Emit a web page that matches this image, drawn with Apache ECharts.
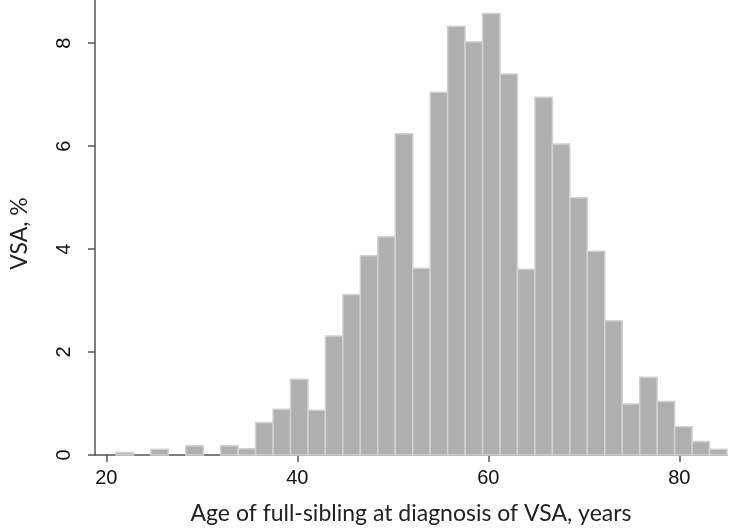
<!DOCTYPE html>
<html>
<head>
<meta charset="utf-8">
<script src="https://cdn.jsdelivr.net/npm/echarts@6/dist/echarts.min.js"></script>
<style>html,body{margin:0;padding:0;background:#fff}#c{width:740px;height:530px}</style>
</head>
<body>
<div id="c"></div>
<script>
// Histogram bin edges (years)
var binEdges = [21.000, 22.829, 24.657, 26.486, 28.314, 30.143, 31.971, 33.800, 35.629, 37.457,
  39.286, 41.114, 42.943, 44.771, 46.600, 48.429, 50.257, 52.086, 53.914, 55.743,
  57.571, 59.400, 61.229, 63.057, 64.886, 66.714, 68.543, 70.371, 72.200, 74.029,
  75.857, 77.686, 79.514, 81.343, 83.171, 85.000];
// Percent of VSA in each bin
var percents = [0.05, 0, 0.11, 0, 0.18, 0, 0.18, 0.12, 0.63, 0.89,
  1.47, 0.87, 2.31, 3.12, 3.87, 4.24, 6.24, 3.63, 7.05, 8.33,
  8.03, 8.58, 7.40, 3.61, 6.95, 6.04, 5.00, 3.96, 2.61, 0.99,
  1.51, 1.04, 0.55, 0.26, 0.11];
var xTicks = [20, 40, 60, 80];
var yTicks = [0, 2, 4, 6, 8];
var xTitle = 'Age of full-sibling at diagnosis of VSA, years';
var yTitle = 'VSA, %';

var histData = percents.map(function (v, i) { return [binEdges[i], binEdges[i + 1], v]; });

var chart = echarts.init(document.getElementById('c'), null, { renderer: 'canvas' });
var axisColor = '#555555';
chart.setOption({
  animation: false,
  grid: { left: 74, right: 13, top: 0, bottom: 74 },
  xAxis: {
    type: 'value', min: 18.81, max: 85.0,
    splitLine: { show: false },
    axisLine: { show: true, lineStyle: { color: axisColor, width: 1.5 } },
    axisTick: { show: true, customValues: xTicks, length: 7, lineStyle: { color: axisColor, width: 1.5 } },
    axisLabel: { customValues: xTicks, margin: 13, fontFamily: 'Liberation Sans', fontSize: 20, color: '#111' },
    name: xTitle, nameLocation: 'middle', nameGap: 47,
    nameTextStyle: { fontFamily: 'Lato', fontSize: 23, color: '#222' }
  },
  yAxis: {
    type: 'value', min: 0, max: 8.84,
    splitLine: { show: false },
    axisLine: { show: true, lineStyle: { color: axisColor, width: 1.5 } },
    axisTick: { show: true, customValues: yTicks, length: 7, lineStyle: { color: axisColor, width: 1.5 } },
    axisLabel: { customValues: yTicks, rotate: 90, margin: 21, fontFamily: 'Liberation Sans', fontSize: 20, color: '#111' },
    name: yTitle, nameLocation: 'middle', nameGap: 64, nameRotate: 90,
    nameTextStyle: { fontFamily: 'Lato', fontSize: 23, color: '#222', padding: [0, 12, 0, 0] }
  },
  series: [{
    type: 'custom',
    data: histData,
    encode: { x: [0, 1], y: 2 },
    renderItem: function (params, api) {
      var p0 = api.coord([api.value(0), 0]);
      var p1 = api.coord([api.value(1), api.value(2)]);
      if (api.value(2) <= 0) return null;
      return {
        type: 'rect',
        shape: { x: p0[0], y: p1[1], width: p1[0] - p0[0], height: p0[1] - p1[1] },
        style: { fill: '#afafaf', stroke: '#d2d2d2', lineWidth: 1.5 }
      };
    }
  }]
});
</script>
</body>
</html>
